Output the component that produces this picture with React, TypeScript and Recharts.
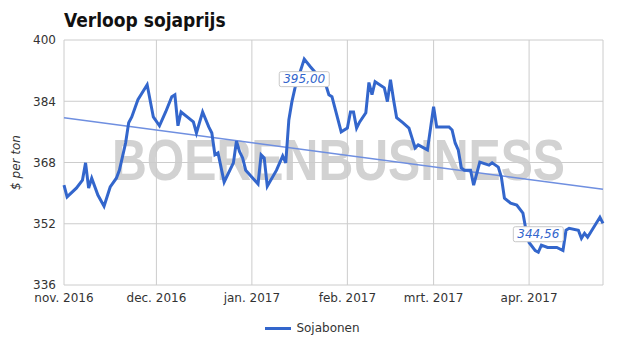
import React from "react";
import {
  LineChart,
  Line,
  XAxis,
  YAxis,
  CartesianGrid,
  ReferenceDot,
  Legend,
} from "recharts";

// Daily soy price readings, nov. 2016 - apr. 2017
const dates = [
  "2016-11-01", "2016-11-02", "2016-11-05", "2016-11-07", "2016-11-08", "2016-11-09",
  "2016-11-10", "2016-11-12", "2016-11-14", "2016-11-16", "2016-11-18", "2016-11-19",
  "2016-11-21", "2016-11-22", "2016-11-23", "2016-11-25", "2016-11-28", "2016-11-30",
  "2016-12-02", "2016-12-04", "2016-12-06", "2016-12-07", "2016-12-08", "2016-12-09",
  "2016-12-11", "2016-12-13", "2016-12-14", "2016-12-16", "2016-12-18", "2016-12-19",
  "2016-12-20", "2016-12-21", "2016-12-23", "2016-12-26", "2016-12-27", "2016-12-28",
  "2016-12-29", "2016-12-30", "2017-01-03", "2017-01-04", "2017-01-05", "2017-01-06",
  "2017-01-09", "2017-01-11", "2017-01-12", "2017-01-13", "2017-01-14", "2017-01-15",
  "2017-01-18", "2017-01-20", "2017-01-25", "2017-01-26", "2017-01-27", "2017-01-30",
  "2017-02-01", "2017-02-02", "2017-02-03", "2017-02-04", "2017-02-05", "2017-02-07",
  "2017-02-08", "2017-02-09", "2017-02-10", "2017-02-13", "2017-02-14", "2017-02-15",
  "2017-02-16", "2017-02-17", "2017-02-19", "2017-02-21", "2017-02-23", "2017-02-24",
  "2017-02-27", "2017-03-01", "2017-03-02", "2017-03-06", "2017-03-07", "2017-03-08",
  "2017-03-09", "2017-03-10", "2017-03-11", "2017-03-13", "2017-03-14", "2017-03-16",
  "2017-03-19", "2017-03-20", "2017-03-22", "2017-03-23", "2017-03-24", "2017-03-26",
  "2017-03-28", "2017-03-30", "2017-03-31", "2017-04-01", "2017-04-03", "2017-04-04",
  "2017-04-05", "2017-04-07", "2017-04-10", "2017-04-12", "2017-04-13", "2017-04-14",
  "2017-04-17", "2017-04-18", "2017-04-19", "2017-04-20", "2017-04-21", "2017-04-24",
  "2017-04-25",
];

const prices = [
  362.1, 359.0, 361.3, 363.4, 367.9, 361.3,
  363.9, 359.5, 356.6, 361.6, 363.9, 366.0,
  373.1, 378.4, 379.9, 384.4, 388.3, 379.9,
  377.6, 381.2, 385.2, 385.7, 377.6, 381.2,
  379.9, 378.6, 375.7, 381.2, 377.3, 375.7,
  370.0, 370.5, 362.9, 367.9, 373.6, 370.8,
  369.2, 366.0, 362.4, 370.0, 369.2, 361.8,
  366.0, 369.7, 367.9, 379.1, 383.9, 387.5,
  395.0, 393.0, 388.3, 385.7, 385.2, 376.0,
  377.0, 381.2, 381.2, 377.0, 378.6, 381.0,
  388.9, 385.7, 389.1, 387.5, 383.9, 389.6,
  384.4, 379.7, 378.4, 377.0, 371.8, 372.6,
  371.3, 382.6, 377.3, 377.3, 376.5, 373.1,
  371.3, 366.6, 366.0, 366.0, 362.1, 368.1,
  367.3, 367.9, 366.8, 364.2, 358.7, 357.4,
  356.9, 354.8, 350.3, 347.1, 345.0, 344.56,
  346.4, 345.8, 345.8, 345.0, 350.3, 350.8,
  350.3, 348.2, 349.5, 348.5, 349.8, 353.7,
  352.1,
];

// trend line: value at first and last date
const trendValues = [379.7, 361.0];

const monthTicks = ["2016-11-01", "2016-12-01", "2017-01-01", "2017-02-01", "2017-03-01", "2017-04-01"];
const monthLabels = ["nov. 2016", "dec. 2016", "jan. 2017", "feb. 2017", "mrt. 2017", "apr. 2017"];
const priceTicks = [336, 352, 368, 384, 400];

const highlightDates = ["2017-01-18", "2017-04-04"];
const highlightValues = [395.0, 344.56];
const highlightTexts = ["395,00", "344,56"];

const START = Date.UTC(2016, 10, 1);
const dayOf = (iso: string) => Math.round((Date.parse(iso) - START) / 86400000);

const data: { day: number; price: number; trend?: number }[] = dates.map((d, i) => ({
  day: dayOf(d),
  price: prices[i],
}));
data[0].trend = trendValues[0];
data[data.length - 1].trend = trendValues[1];

const tickDays = monthTicks.map(dayOf);
const lastDay = dayOf(dates[dates.length - 1]);

const FONT = "'DejaVu Sans', Verdana, sans-serif";
const BLUE = "#3366cc";
// vertical shift of the value boxes relative to their point
const LABEL_SHIFT = [20, -18];

const renderHighlight = (text: string, dy: number) => (props: any) => {
  const vb = props.viewBox || {};
  const cx = vb.x + (vb.width || 0) / 2;
  const cy = vb.y + (vb.height || 0) / 2 + dy;
  return (
    <g>
      <rect x={cx - 25} y={cy - 7.5} width={50} height={15} rx={2} fill="#fff" stroke="#c8c8c8" />
      <text
        x={cx}
        y={cy}
        textAnchor="middle"
        dominantBaseline="central"
        fontFamily={FONT}
        fontSize={12}
        fontStyle="italic"
        fill={BLUE}
      >
        {text}
      </text>
    </g>
  );
};

const renderYLabel = (props: any) => {
  const vb = props.viewBox || {};
  const cy = vb.y + vb.height / 2;
  return (
    <text
      x={16}
      y={cy}
      transform={`rotate(-90, 16, ${cy})`}
      textAnchor="middle"
      dominantBaseline="central"
      fontFamily={FONT}
      fontSize={12}
      fontStyle="italic"
      fill="#333"
    >
      $ per ton
    </text>
  );
};

const LegendContent = () => (
  <div
    style={{
      display: "flex",
      justifyContent: "center",
      alignItems: "center",
      fontFamily: FONT,
      fontSize: 12,
      color: "#333",
    }}
  >
    <span style={{ display: "inline-block", width: 26, height: 3, background: BLUE, marginRight: 5 }} />
    <span>Sojabonen</span>
  </div>
);

export default function App() {
  return (
    <div style={{ position: "fixed", top: 0, left: 0, width: 625, height: 355, background: "#fff" }}>
      <div
        style={{
          position: "absolute",
          left: 64,
          top: 9,
          fontFamily: "'DejaVu Sans Condensed', 'DejaVu Sans', sans-serif",
          fontStretch: "condensed",
          fontWeight: "bold",
          fontSize: 19,
          lineHeight: "22px",
          color: "#111",
        }}
      >
        Verloop sojaprijs
      </div>
      <svg width={625} height={355} style={{ position: "absolute", left: 0, top: 0 }}>
        <text
          x={112}
          y={180}
          textLength={453}
          lengthAdjust="spacingAndGlyphs"
          fontFamily="'Liberation Sans', Arial, sans-serif"
          fontWeight="bold"
          fontSize={58}
          fill="#d2d2d2"
        >
          BOERENBUSINESS
        </text>
      </svg>
      <div style={{ position: "absolute", left: 0, top: 0 }}>
        <LineChart width={625} height={355} data={data} margin={{ top: 40, right: 22, bottom: 40, left: 0 }}>
          <CartesianGrid stroke="#cccccc" />
          <XAxis
            dataKey="day"
            type="number"
            domain={[0, lastDay]}
            ticks={tickDays}
            interval={0}
            height={30}
            axisLine={false}
            tickLine={false}
            tickFormatter={(v: number) => monthLabels[tickDays.indexOf(v)] ?? ""}
            tick={{ fill: "#333", fontSize: 12, fontFamily: FONT }}
          />
          <YAxis
            type="number"
            domain={[336, 400]}
            ticks={priceTicks}
            width={64}
            axisLine={false}
            tickLine={false}
            tick={{ fill: "#333", fontSize: 12, fontFamily: FONT }}
            label={renderYLabel}
          />
          <Line
            dataKey="trend"
            type="linear"
            stroke="#6f8fe0"
            strokeWidth={1.5}
            dot={false}
            connectNulls
            isAnimationActive={false}
            legendType="none"
          />
          <Line
            dataKey="price"
            name="Sojabonen"
            type="linear"
            stroke={BLUE}
            strokeWidth={3}
            dot={false}
            isAnimationActive={false}
          />
          {highlightDates.map((d, i) => (
            <ReferenceDot
              key={d}
              x={dayOf(d)}
              y={highlightValues[i]}
              r={0}
              fill="none"
              stroke="none"
              label={renderHighlight(highlightTexts[i], LABEL_SHIFT[i])}
            />
          ))}
          <Legend
            verticalAlign="middle"
            layout="horizontal"
            wrapperStyle={{ top: 321, left: 0, width: 625 }}
            content={LegendContent}
          />
        </LineChart>
      </div>
    </div>
  );
}
